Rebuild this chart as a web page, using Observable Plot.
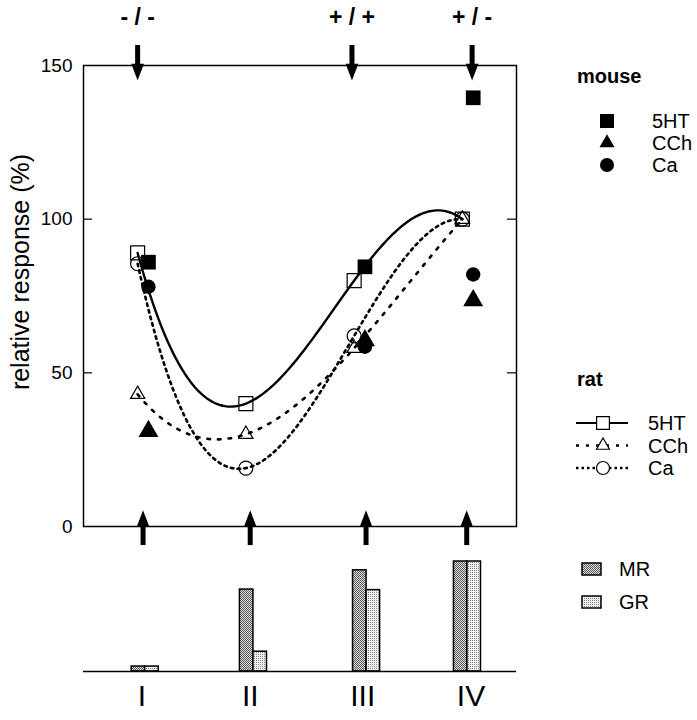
<!DOCTYPE html>
<html>
<head>
<meta charset="utf-8">
<script src="https://cdn.jsdelivr.net/npm/d3@7"></script>
<script src="https://cdn.jsdelivr.net/npm/@observablehq/plot@0.6"></script>
<style>
  body { margin: 0; background: #fff; }
  #wrap { position: relative; width: 697px; height: 720px; overflow: hidden; background: #fff;
          font-family: "Liberation Sans", Arial, Helvetica, sans-serif; }
  #main, #bars, #legend { position: absolute; left: 0; }
  #main { top: 0; }
  #bars { top: 560px; }
  #legend { top: 0; pointer-events: none; }
</style>
</head>
<body>
<div id="wrap">
  <div id="main"></div>
  <div id="bars"></div>
  <svg id="legend" width="697" height="720">
    <defs>
      <pattern id="mrPat" width="2" height="2" patternUnits="userSpaceOnUse">
        <rect width="2" height="2" fill="#dcdcdc"></rect>
        <rect width="1" height="1" fill="#5a5a5a"></rect>
        <rect x="1" y="1" width="1" height="1" fill="#5a5a5a"></rect>
      </pattern>
      <pattern id="grPat" width="2" height="2" patternUnits="userSpaceOnUse">
        <rect width="2" height="2" fill="#efefef"></rect>
        <rect width="1" height="1" fill="#8a8a8a"></rect>
      </pattern>
    </defs>
  </svg>
</div>
<script>
// ---------------- data ----------------
const stages = ["I", "II", "III", "IV"];
const stagePos = [1, 2, 3, 4];
const seriesNames = ["5HT", "CCh", "Ca"];
// rat (open symbols, fitted curves), stages I–IV
const rat5HT = [89, 40, 80, 100];
const ratCCh = [43, 30, 58, 100];
const ratCa  = [85.5, 19, 62, 100];
// mouse (filled symbols), stages I, III, IV
const mouseStages = ["I", "III", "IV"];
const mouse5HT = [86, 84.5, 139.5];
const mouseCCh = [31, 60.5, 73.5];
const mouseCa  = [78, 58.5, 82];
// genotype labels above the panel
const genotypes = ["- / -", "+ / +", "+ / -"];
const genotypeStages = ["I", "III", "IV"];
// receptor bars (relative units)
const barSeries = ["MR", "GR"];
const barMR = [4.5, 74.5, 92, 100];
const barGR = [4.5, 18, 74, 100];
const yTicks = [0, 50, 100, 150];
const yLabel = "relative response (%)";
const groupTitles = ["mouse", "rat"];

// ---------------- layout helpers ----------------
const FONT = '"Liberation Sans", Arial, Helvetica, sans-serif';
const pos = s => stagePos[stages.indexOf(s)];
const mouseShift = 0.1;
const genotypeShift = [0, -0.02, 0.09];
const lowerArrowShift = [0.05, 0.04, 0.11, 0.04];
const barShift = [0.07, 0.07, 0.115, 0.047];
const romanShift = [0.04, 0.04, 0.08, 0.08];
const barW = 0.125;

// cubic (polynomial) fit drawn through the rat points
function polyCurve(context) {
  let xs, ys;
  return {
    areaStart() {}, areaEnd() {},
    lineStart() { xs = []; ys = []; },
    point(x, y) { xs.push(+x); ys.push(+y); },
    lineEnd() {
      const n = xs.length;
      const f = t => {
        let s = 0;
        for (let i = 0; i < n; i++) {
          let L = 1;
          for (let j = 0; j < n; j++) if (j !== i) L *= (t - xs[j]) / (xs[i] - xs[j]);
          s += ys[i] * L;
        }
        return s;
      };
      const steps = 160;
      for (let k = 0; k <= steps; k++) {
        const t = xs[0] + (xs[n - 1] - xs[0]) * k / steps;
        if (k === 0) context.moveTo(t, f(t)); else context.lineTo(t, f(t));
      }
    }
  };
}

const arrowHead = {
  draw(ctx, size) {
    const k = Math.sqrt(size / Math.PI);
    ctx.moveTo(0, 0);
    ctx.lineTo(-0.8 * k, -2.1 * k);
    ctx.lineTo(0.8 * k, -2.1 * k);
    ctx.closePath();
  }
};

const ratValues = {"5HT": rat5HT, "CCh": ratCCh, "Ca": ratCa};
const mouseValues = {"5HT": mouse5HT, "CCh": mouseCCh, "Ca": mouseCa};
const symbolOf = {"5HT": "square", "CCh": "triangle", "Ca": "circle"};
const ratR = {"5HT": 7.9, "CCh": 5.3, "Ca": 7};
const mouseR = {"5HT": 8.3, "CCh": 7.4, "Ca": 7.2};
const lineStyle = {
  "5HT": {w: 2.4, dash: null},
  "CCh": {w: 2.6, dash: "2.6,8"},
  "Ca":  {w: 2.6, dash: "2.6,4.2"}
};

const ratRows = name => stages.map((s, i) => ({x: pos(s), y: ratValues[name][i]}));
const mouseRows = name => mouseStages.map((s, i) => ({x: pos(s) + mouseShift, y: mouseValues[name][i]}));
const topArrows = genotypeStages.map((s, i) => ({x: pos(s) + genotypeShift[i], label: genotypes[i]}));
const lowArrows = stages.map((s, i) => ({x: pos(s) + lowerArrowShift[i]}));

// ---------------- main panel ----------------
const main = Plot.plot({
  width: 697, height: 560,
  marginLeft: 83, marginRight: 181, marginTop: 65, marginBottom: 34,
  x: {domain: [0.5, 4.5], axis: null},
  y: {domain: [0, 150]},
  style: {fontFamily: FONT, background: "transparent", color: "black", overflow: "visible"},
  marks: [
    Plot.frame({stroke: "black", strokeWidth: 1.5}),
    Plot.tickY([50, 100], {y: d => d, insetRight: 424, strokeWidth: 1.2}),
    Plot.tickY([50, 100], {y: d => d, insetLeft: 424, strokeWidth: 1.2}),
    Plot.axisY(yTicks, {anchor: "left", tickSize: 0, tickPadding: 11, fontSize: 19, label: null}),
    Plot.text([yLabel], {text: d => d, frameAnchor: "left", textAnchor: "middle", dx: -63, dy: -24, rotate: -90, fontSize: 25}),
    ...seriesNames.map(name => Plot.line(ratRows(name), {
      x: "x", y: "y", curve: polyCurve, stroke: "black",
      strokeWidth: lineStyle[name].w, strokeDasharray: lineStyle[name].dash
    })),
    ...seriesNames.map(name => Plot.dot(ratRows(name), {
      x: "x", y: "y", symbol: symbolOf[name], r: ratR[name],
      fill: "none", stroke: "black", strokeWidth: 1.2
    })),
    ...seriesNames.map(name => Plot.dot(mouseRows(name), {
      x: "x", y: "y", symbol: symbolOf[name], r: mouseR[name], fill: "black", stroke: "none"
    })),
    // genotype arrows (top)
    Plot.ruleX(topArrows, {x: "x", y1: 156.5, y2: 149.5, strokeWidth: 5}),
    Plot.dot(topArrows, {x: "x", y: 145.1, symbol: arrowHead, r: 8, fill: "black", stroke: "none"}),
    Plot.text(topArrows, {x: "x", y: 165.5, text: "label", fontSize: 23, fontWeight: "bold"}),
    // stage arrows (bottom)
    Plot.ruleX(lowArrows, {x: "x", y1: -0.2, y2: -6.2, strokeWidth: 5}),
    Plot.dot(lowArrows, {x: "x", y: 5.3, symbol: arrowHead, r: 8, rotate: 180, fill: "black", stroke: "none"})
  ]
});
document.getElementById("main").appendChild(main);

// ---------------- receptor bars ----------------
const barRows = (vals, k) => stages.map((s, i) => {
  const g = pos(s) + barShift[i];
  return k === 0 ? {x1: g - barW, x2: g, v: vals[i]} : {x1: g, x2: g + barW, v: vals[i]};
});
const bars = Plot.plot({
  width: 697, height: 160,
  marginLeft: 83, marginRight: 181, marginTop: 1, marginBottom: 49,
  x: {domain: [0.5, 4.5], axis: null},
  y: {domain: [0, 100], axis: null},
  style: {fontFamily: FONT, background: "transparent", color: "black", overflow: "visible"},
  marks: [
    Plot.rect(barRows(barMR, 0), {x1: "x1", x2: "x2", y1: 0, y2: "v", fill: "url(#mrPat)", stroke: "black", strokeWidth: 1.5}),
    Plot.rect(barRows(barGR, 1), {x1: "x1", x2: "x2", y1: 0, y2: "v", fill: "url(#grPat)", stroke: "black", strokeWidth: 1.5}),
    Plot.ruleY([0], {strokeWidth: 1.5}),
    Plot.text(stages, {x: (d, i) => pos(d) + romanShift[i], text: d => d, frameAnchor: "bottom", dy: 34, fontSize: 30})
  ]
});
document.getElementById("bars").appendChild(bars);

// ---------------- legends ----------------
const lg = d3.select("#legend").style("font-family", FONT);
const title = (t, x, y) => lg.append("text").attr("x", x).attr("y", y).attr("dy", "0.35em")
  .attr("font-size", 20).attr("font-weight", "bold").text(t);
const label = (t, x, y) => lg.append("text").attr("x", x).attr("y", y).attr("dy", "0.35em")
  .attr("font-size", 20).text(t);
const d3sym = {"5HT": d3.symbolSquare, "CCh": d3.symbolTriangle, "Ca": d3.symbolCircle};

// mouse
title(groupTitles[0], 577, 76);
seriesNames.forEach((name, i) => {
  const y = 121 + i * 22;
  const r = {"5HT": 7.9, "CCh": 5.6, "Ca": 7}[name];
  lg.append("path").attr("transform", `translate(607,${y})`)
    .attr("d", d3.symbol(d3sym[name], Math.PI * r * r)()).attr("fill", "black");
  label(name, 652, y);
});
// rat
title(groupTitles[1], 577, 379);
seriesNames.forEach((name, i) => {
  const y = 423 + i * 22.5;
  const r = {"5HT": 7.2, "CCh": 4.8, "Ca": 6.5}[name];
  lg.append("line").attr("x1", 576).attr("x2", 628).attr("y1", y).attr("y2", y)
    .attr("stroke", "black").attr("stroke-width", name === "5HT" ? 2 : 2.4)
    .attr("stroke-dasharray", name === "5HT" ? null : (name === "CCh" ? "3,7" : "2.5,3"));
  lg.append("path").attr("transform", `translate(603,${y})`)
    .attr("d", d3.symbol(d3sym[name], Math.PI * r * r)())
    .attr("fill", "white").attr("stroke", "black").attr("stroke-width", 1.2);
  label(name, 648, y);
});
// bars
barSeries.forEach((name, i) => {
  const y = 569 + i * 33;
  lg.append("rect").attr("x", 582).attr("y", y - 6).attr("width", 19).attr("height", 12)
    .attr("fill", i === 0 ? "url(#mrPat)" : "url(#grPat)").attr("stroke", "black").attr("stroke-width", 1.5);
  label(name, 619, y);
});
</script>
</body>
</html>
